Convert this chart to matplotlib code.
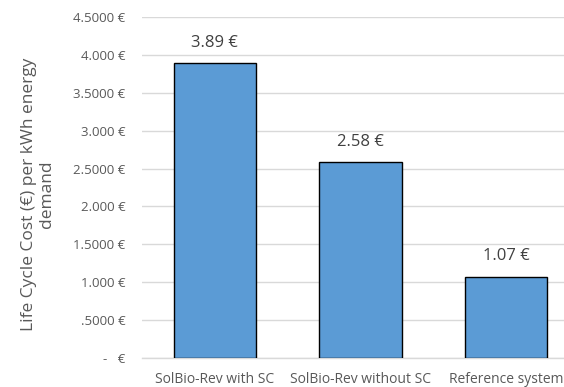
import matplotlib
matplotlib.use("Agg")
import matplotlib.pyplot as plt
from matplotlib.ticker import FixedLocator, FixedFormatter

categories = ["SolBio-Rev with SC", "SolBio-Rev without SC", "Reference system"]
lcc_values = [3.89, 2.58, 1.07]
value_labels = ["3.89 €", "2.58 €", "1.07 €"]
y_ticks = [0, 0.5, 1.0, 1.5, 2.0, 2.5, 3.0, 3.5, 4.0, 4.5]
y_tick_labels = ["-   €", ".5000 €", "1.000 €", "1.5000 €", "2.000 €",
                 "2.5000 €", "3.000 €", "3.5000 €", "4.000 €", "4.5000 €"]

plt.rcParams["font.family"] = ["Open Sans", "DejaVu Sans"]
text_color = "#595959"
grid_color = "#d9d9d9"

fig = plt.figure(figsize=(5.64, 3.87), dpi=100)
ax = fig.add_axes([142 / 564, 1 - 358 / 387, (579 - 142) / 564, (358 - 17) / 387])

x = range(len(categories))
ax.bar(x, lcc_values, width=0.565, color="#5b9bd5", edgecolor="black",
       linewidth=1.0, zorder=3)

for xi, v, lab in zip(x, lcc_values, value_labels):
    ax.annotate(lab, (xi, v), xytext=(0, 9), textcoords="offset points",
                ha="center", va="bottom", fontsize=12, color="#404040")

ax.set_xlim(-0.5, len(categories) - 0.5)
ax.set_ylim(0, 4.5)
ax.yaxis.set_major_locator(FixedLocator(y_ticks))
ax.yaxis.set_major_formatter(FixedFormatter(y_tick_labels))
ax.set_xticks(list(x))
ax.set_xticklabels(categories)

ax.grid(axis="y", color=grid_color, linewidth=1.0, zorder=0)
ax.set_axisbelow(True)
for side in ["top", "right", "left"]:
    ax.spines[side].set_visible(False)
ax.spines["bottom"].set_color(grid_color)
ax.spines["bottom"].set_linewidth(1.0)

ax.tick_params(axis="both", length=0, labelsize=9.5, colors=text_color)
ax.tick_params(axis="x", labelsize=10, pad=10)
ax.tick_params(axis="y", pad=12)

fig.text(38 / 564, 1 - 194 / 387, "Life Cycle Cost (€) per kWh energy\ndemand",
         rotation=90, ha="center", va="center", multialignment="center",
         fontsize=12.5, color=text_color, linespacing=1.15)

fig.savefig("out.png", dpi=100)
